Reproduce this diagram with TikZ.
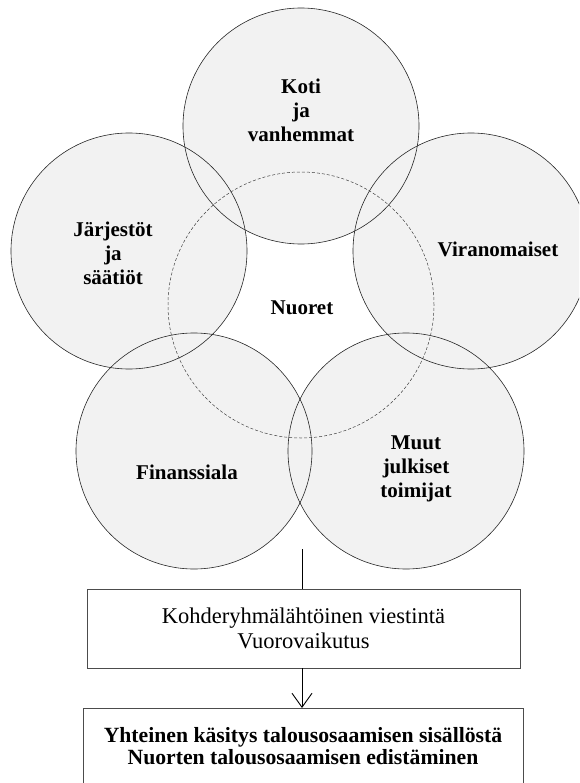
\documentclass[tikz,border=0pt]{standalone}
\usepackage{fontspec}
\setmainfont{Liberation Serif}
\usetikzlibrary{arrows.meta}
\begin{document}
\begin{tikzpicture}[x=1pt,y=-1pt,
  ring/.style={circle,draw=black!85,line width=0.6pt,minimum size=236pt,inner sep=0pt},
  youth ring/.style={circle,draw=black!75,line width=0.5pt,dash pattern=on 3pt off 2pt,minimum size=266pt,inner sep=0pt},
  lbl/.style={font=\fontsize{21}{24}\selectfont\bfseries,align=center,inner sep=0pt},
  panel/.style={draw=black!70,line width=0.6pt,align=center,inner sep=0pt},
  link/.style={line width=0.9pt,black}
]
\useasboundingbox (0,0) rectangle (579,783);
\begin{scope}
\clip (0,0) rectangle (579,783);
% centres of the five stakeholder circles and of the youth circle
\coordinate (cK) at (301,126);
\coordinate (cJ) at (129,251);
\coordinate (cV) at (471,251);
\coordinate (cF) at (194,451);
\coordinate (cM) at (406,451);
\coordinate (cN) at (301,305);
% shaded discs first, so overlaps keep one flat tone
\foreach \c in {cK,cJ,cV,cF,cM}
  \fill[black!5] (\c) circle (118);
% outlines
\node[ring] (koti) at (cK) {};
\node[ring] (jarj) at (cJ) {};
\node[ring] (vira) at (cV) {};
\node[ring] (fina) at (cF) {};
\node[ring] (muut) at (cM) {};
\node[youth ring] (nuor) at (cN) {};
% circle labels
\node[lbl] (tK) at (301,110) {Koti\\ja\\vanhemmat};
\node[lbl] (tJ) at (113,253) {Järjestöt\\ja\\säätiöt};
\node[lbl] (tV) at (498,249) {Viranomaiset};
\node[lbl] (tF) at (187,472) {Finanssiala};
\node[lbl] (tM) at (416,469) {Muut\\julkiset\\toimijat};
\node[lbl] (tN) at (302,308) {Nuoret};
% boxes below
\node[panel,minimum width=433pt,minimum height=79pt,
      font=\fontsize{22.5}{25}\selectfont] (b1) at (303.5,628.5)
  {Kohderyhmälähtöinen viestintä\\Vuorovaikutus};
\node[panel,anchor=north,minimum width=440pt,inner ysep=19pt,text depth=45pt,
      font=\fontsize{21.7}{22.5}\selectfont\bfseries] (b2) at (303,708)
  {Yhteinen käsitys talousosaamisen sisällöstä\\Nuorten talousosaamisen edistäminen};
% connectors
\coordinate (src) at (302,549);
\draw[link] (src) -- (src |- b1.north);
\draw[link,-{Straight Barb[length=14pt,width=20pt]}] (b1.south -| src) -- (b2.north -| src);
\end{scope}
\end{tikzpicture}
\end{document}
